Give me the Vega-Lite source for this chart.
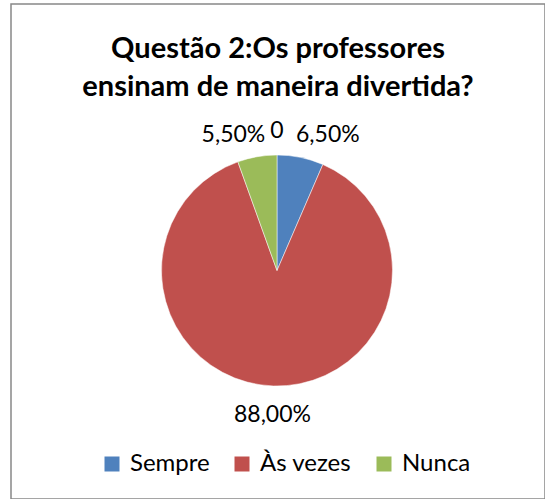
{
  "$schema": "https://vega.github.io/schema/vega-lite/v6.json",
  "width": 534,
  "height": 495,
  "autosize": {"type": "none"},
  "padding": {"left": 11, "top": 4, "right": 0, "bottom": 0},
  "background": "white",
  "view": {"stroke": "#888888", "strokeWidth": 1.5, "fill": "white"},
  "config": {
    "view": {"stroke": "#888888", "strokeWidth": 1.5},
    "font": "Lato",
    "text": {"font": "Lato", "color": "black"}
  },
  "title": {
    "text": ["Questão 2:Os professores", "ensinam de maneira divertida?"],
    "font": "Lato",
    "fontSize": 29,
    "fontWeight": "bold",
    "color": "black",
    "anchor": "middle",
    "frame": "group",
    "orient": "top",
    "offset": -98,
    "lineHeight": 38
  },
  "data": {
    "values": [
      {"categoria": "Sempre", "valor": 6.5, "rotulo": "6,50%", "ordem": 1},
      {"categoria": "Às vezes", "valor": 88.0, "rotulo": "88,00%", "ordem": 2},
      {"categoria": "Nunca", "valor": 5.5, "rotulo": "5,50%", "ordem": 3},
      {"categoria": "vazio", "valor": 0, "rotulo": "0", "ordem": 4}
    ]
  },
  "encoding": {
    "theta": {"field": "valor", "type": "quantitative", "stack": true},
    "order": {"field": "ordem", "type": "quantitative"}
  },
  "layer": [
    {
      "transform": [{"filter": "datum.valor > 0"}],
      "mark": {"type": "arc", "outerRadius": 115.5, "x": {"expr": "width/2 - 1"}, "y": {"expr": "height/2 + 19"}, "stroke": "#ffffff", "strokeWidth": 0.5},
      "encoding": {
        "color": {
          "field": "categoria",
          "type": "nominal",
          "scale": {"domain": ["Sempre", "Às vezes", "Nunca"], "range": ["#4F81BD", "#C0504D", "#9BBB59"]},
          "legend": {
            "title": null,
            "orient": "none",
            "legendX": 89,
            "legendY": 448,
            "direction": "horizontal",
            "symbolType": "square",
            "symbolSize": 225,
            "symbolStrokeWidth": 0,
            "labelFont": "Lato",
            "labelFontSize": 24,
            "labelColor": "black",
            "labelOffset": 6,
            "columnPadding": 20
          }
        }
      }
    },
    {
      "mark": {"type": "text", "radius": 138, "align": "left", "baseline": "middle", "dx": -9, "fontSize": 23, "x": {"expr": "width/2 - 1"}, "y": {"expr": "height/2 + 19"}},
      "encoding": {
        "detail": {"field": "categoria", "type": "nominal"},
        "text": {"condition": {"test": "datum.categoria === 'Sempre'", "field": "rotulo", "type": "nominal"}, "value": ""}
      }
    },
    {
      "mark": {"type": "text", "radius": 138, "align": "right", "baseline": "middle", "dx": 12, "fontSize": 23, "x": {"expr": "width/2 - 1"}, "y": {"expr": "height/2 + 19"}},
      "encoding": {
        "detail": {"field": "categoria", "type": "nominal"},
        "text": {"condition": {"test": "datum.categoria === 'Nunca'", "field": "rotulo", "type": "nominal"}, "value": ""}
      }
    },
    {
      "mark": {"type": "text", "radius": 140, "align": "center", "baseline": "middle", "fontSize": 23, "x": {"expr": "width/2 - 1"}, "y": {"expr": "height/2 + 19"}},
      "encoding": {
        "detail": {"field": "categoria", "type": "nominal"},
        "text": {"condition": {"test": "datum.categoria === 'vazio'", "field": "rotulo", "type": "nominal"}, "value": ""}
      }
    },
    {
      "mark": {"type": "text", "radius": 145, "align": "center", "baseline": "middle", "fontSize": 23, "x": {"expr": "width/2 - 1"}, "y": {"expr": "height/2 + 19"}},
      "encoding": {
        "detail": {"field": "categoria", "type": "nominal"},
        "text": {"condition": {"test": "datum.categoria === 'Às vezes'", "field": "rotulo", "type": "nominal"}, "value": ""}
      }
    }
  ]
}
